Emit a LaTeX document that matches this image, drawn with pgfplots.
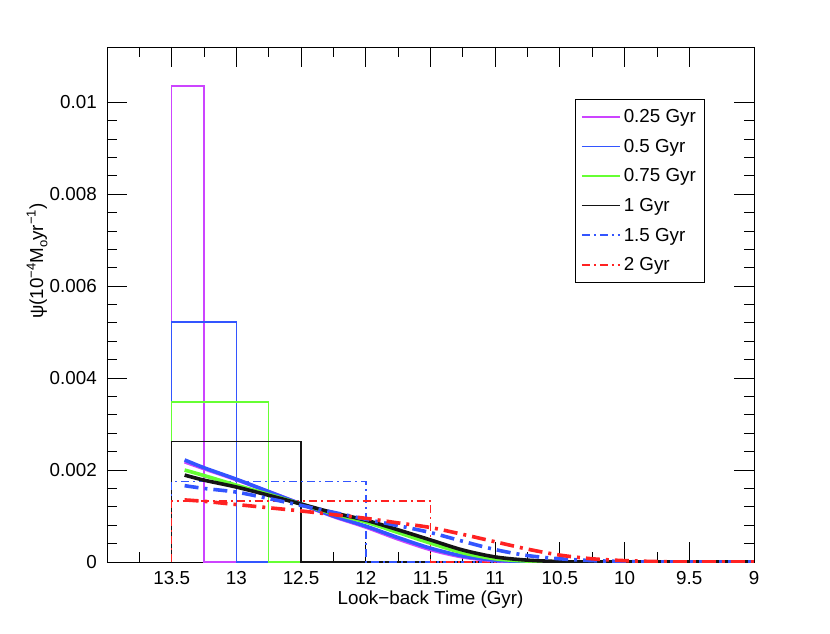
\documentclass[border=0pt]{standalone}
\usepackage{pgfplots}
\pgfplotsset{compat=1.18}
\usepackage{fontspec}
\setmainfont{Liberation Sans}
\definecolor{cmag}{RGB}{204,68,255}
\definecolor{cblue}{RGB}{51,85,255}
\definecolor{cgreen}{RGB}{102,255,51}
\definecolor{cred}{RGB}{255,34,34}
\definecolor{cblk}{RGB}{20,20,20}
\newcommand{\fs}{\fontsize{18.8}{22}\selectfont}
\begin{document}
\begin{tikzpicture}
\begin{axis}[
  at={(0pt,0pt)}, anchor=south west,
  scale only axis, width=647pt, height=515pt,
  x dir=reverse, xmin=9, xmax=14, ymin=0, ymax=0.0112,
  xtick={13.5,13,12.5,12,11.5,11,10.5,10,9.5,9},
  xticklabels={13.5,13,12.5,12,11.5,11,10.5,10,9.5,9},
  minor xtick={13.75,13.25,12.75,12.25,11.75,11.25,10.75,10.25,9.75},
  ytick={0,0.002,0.004,0.006,0.008,0.01},
  yticklabels={0,0.002,0.004,0.006,0.008,0.01},
  minor y tick num=4,
  scaled y ticks=false,
  tick align=inside, tick pos=both,
  major tick length=20pt, minor tick length=10pt,
  every tick/.style={black, line width=0.8pt},
  axis line style={black, line width=0.9pt},
  /pgf/number format/assume math mode=true,
  xticklabel style={font=\fs, anchor=base, inner sep=0pt, yshift=-22pt},
  yticklabel style={font=\fs, anchor=east, inner sep=0pt, xshift=-10pt},
  xlabel={Look−back Time (Gyr)},
  xlabel style={font=\fs, at={(axis description cs:0.5,-0.0816)}, anchor=base},
  ylabel={ψ(10\raisebox{0.75ex}{\fontsize{13}{13}\selectfont −4}M\raisebox{-0.45ex}{\fontsize{13}{13}\selectfont o}yr\raisebox{0.75ex}{\fontsize{13}{13}\selectfont −1})},
  ylabel style={font=\fs, at={(axis description cs:-0.108,0.584)}, anchor=center},
  legend style={at={(axis description cs:0.723,0.899)}, anchor=north west,
    draw=black, line width=0.8pt, font=\fs, row sep=11pt, inner xsep=6pt, inner ysep=8pt,
    nodes={inner xsep=3pt, inner ysep=2pt}},
  legend cell align=left,
  legend image code/.code={\draw[#1, line width=1.6pt] (0pt,0pt) -- (38pt,0pt);},
]
% histograms (legend entries)
\addplot[draw=cmag, line width=1.5pt] coordinates {(13.5,0) (13.5,0.01035) (13.25,0.01035) (13.25,0) (9,0)};
\addlegendentry{0.25 Gyr}
\addplot[draw=cblue, line width=1.5pt] coordinates {(13.5,0) (13.5,0.00522) (13.0,0.00522) (13.0,0) (9,0)};
\addlegendentry{0.5 Gyr}
\addplot[draw=cgreen, line width=1.5pt] coordinates {(13.5,0) (13.5,0.00348) (12.75,0.00348) (12.75,0) (9,0)};
\addlegendentry{0.75 Gyr}
\addplot[draw=cblk, line width=1.5pt] coordinates {(13.5,0) (13.5,0.00262) (12.5,0.00262) (12.5,0) (9,0)};
\addlegendentry{1 Gyr}
\addplot[draw=cblue, line width=1.6pt, dash pattern=on 8pt off 4pt on 2pt off 4pt] coordinates {(13.5,0) (13.5,0.00175) (12.0,0.00175) (12.0,0) (9,0)};
\addlegendentry{1.5 Gyr}
\addplot[draw=cred, line width=1.5pt, dash pattern=on 8pt off 4pt on 2pt off 4pt] coordinates {(13.5,0) (13.5,0.001327) (11.5,0.001327) (11.5,0) (9,0)};
\addlegendentry{2 Gyr}
% smooth curves
\addplot[forget plot, draw=cmag, line width=3.6pt, smooth] coordinates {
(13.4,0.00218) (13.25,0.00203) (13.0,0.00179) (12.75,0.00153) (12.5,0.00126) (12.25,0.00099)
(12.0,0.00076) (11.75,0.00050) (11.5,0.00027) (11.25,0.00011) (11.0,0.00003) (10.75,0.000005) (10.5,0) (9,0)};
\addplot[forget plot, draw=cblue, line width=3.6pt, smooth] coordinates {
(13.4,0.00222) (13.25,0.00205) (13.0,0.00180) (12.75,0.00153) (12.5,0.00126) (12.25,0.00100)
(12.0,0.00078) (11.75,0.00053) (11.5,0.00030) (11.25,0.00013) (11.0,0.00004) (10.75,0.00001) (10.5,0) (9,0)};
\addplot[forget plot, draw=cgreen, line width=3.6pt, smooth] coordinates {
(13.4,0.00200) (13.25,0.00188) (13.0,0.00167) (12.75,0.00147) (12.5,0.00126) (12.25,0.00105)
(12.0,0.00087) (11.75,0.00064) (11.5,0.00041) (11.25,0.00020) (11.0,0.00007) (10.75,0.00002) (10.5,0) (9,0)};
\addplot[forget plot, draw=cblk, line width=3.6pt, smooth] coordinates {
(13.4,0.00189) (13.25,0.00178) (13.0,0.00163) (12.75,0.00145) (12.5,0.00126) (12.25,0.00107)
(12.0,0.00091) (11.75,0.00070) (11.5,0.00048) (11.25,0.00026) (11.0,0.00011) (10.75,0.00004) (10.5,0.00001) (10.25,0) (9,0)};
\addplot[forget plot, draw=cblue, line width=3.6pt, smooth, dash pattern=on 14pt off 6pt on 3pt off 6pt] coordinates {
(13.4,0.00166) (13.25,0.00160) (13.0,0.00152) (12.75,0.00138) (12.5,0.00123) (12.25,0.00108)
(12.0,0.00093) (11.75,0.00079) (11.5,0.00064) (11.25,0.00045) (11.0,0.00027) (10.75,0.00014)
(10.5,0.00007) (10.25,0.00003) (10.0,0.00001) (9.75,0) (9,0)};
\addplot[forget plot, draw=cred, line width=3.6pt, smooth, dash pattern=on 14pt off 6pt on 3pt off 6pt] coordinates {
(13.4,0.00135) (13.25,0.00132) (13.0,0.00125) (12.75,0.00118) (12.5,0.00111) (12.25,0.00103)
(12.0,0.00095) (11.75,0.00085) (11.5,0.00075) (11.25,0.00060) (11.0,0.00044) (10.75,0.00028)
(10.5,0.00015) (10.25,0.00007) (10.0,0.00003) (9.75,0.00001) (9.5,0) (9,0)};
\end{axis}
\useasboundingbox (-107pt,-71pt) rectangle (723pt,562pt);
\end{tikzpicture}
\end{document}
